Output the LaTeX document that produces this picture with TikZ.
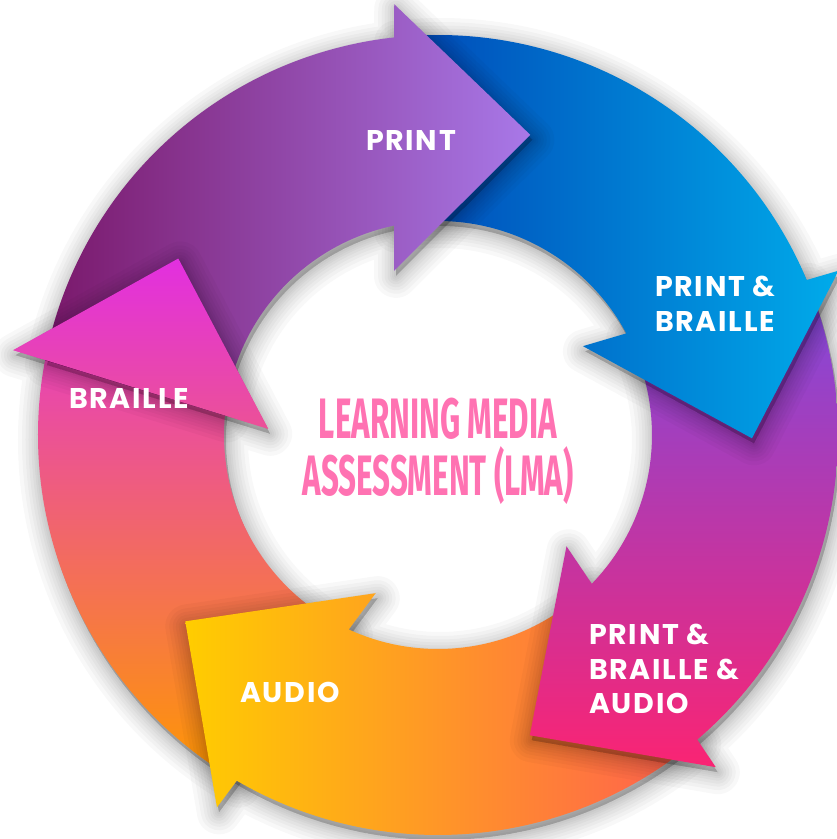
\documentclass[tikz,border=0pt]{standalone}
\usepackage{fontspec}
\newfontfamily\lblfont[LetterSpace=6]{Poppins}
\newfontfamily\lmafont[FakeStretch=0.55]{Fira Sans}

\definecolor{printL}{HTML}{7A186A}
\definecolor{printM}{HTML}{8E46A8}
\definecolor{printR}{HTML}{A878E8}
\definecolor{pbL}{HTML}{0046B6}
\definecolor{pbR}{HTML}{00ABEA}
\definecolor{pbaT}{HTML}{7C4ADE}
\definecolor{pbaM}{HTML}{C23AB0}
\definecolor{pbaB}{HTML}{FA2473}
\definecolor{audL}{HTML}{FFCD00}
\definecolor{audM}{HTML}{FFA820}
\definecolor{audR}{HTML}{FF5E50}
\definecolor{brT}{HTML}{E22FE0}
\definecolor{brM}{HTML}{EF6075}
\definecolor{brB}{HTML}{FF9800}
\definecolor{lmapink}{HTML}{FF72B2}

\tikzset{
  % one ring segment: tail at the previous head, head at #2
  ringarrow/.style 2 args={insert path={
    (#1-4.1:400) arc[start angle=#1-4.1, end angle=#2-4.1, radius=400]
    -- (#2-4.6:433) -- (#2-27.5:314) -- (#2+4.6:170) -- (#2+1.45:214)
    arc[start angle=#2+1.45, end angle=#1+1.45, radius=214] -- cycle}},
  arrowhead/.style={insert path={(#1-4.6:433) -- (#1-27.5:314) -- (#1+4.6:170) -- cycle}},
  shadowpass/.style={draw=black, fill=black, draw opacity=0.028, fill opacity=0.028,
    line width=#1, line join=round, transform canvas={shift={(2pt,-5pt)}}},
  ringshadow/.style={preaction={shadowpass=44pt}, preaction={shadowpass=36pt},
    preaction={shadowpass=29pt}, preaction={shadowpass=23pt}, preaction={shadowpass=17pt},
    preaction={shadowpass=12pt}, preaction={shadowpass=8pt}, preaction={shadowpass=4pt}},
  lbl/.style={text=white, inner sep=0pt, align=left,
    font=\lblfont\fontsize{28.5}{34.5}\selectfont\bfseries},
  lma/.style={text=lmapink, inner sep=0pt, align=center,
    font=\lmafont\fontsize{57}{57}\selectfont\bfseries}
}

\begin{document}
\begin{tikzpicture}[x=1pt,y=1pt]
\useasboundingbox (0,0) rectangle (837,839);
\fill[white] (0,0) rectangle (837,839);

\begin{scope}[shift={(438,404)}]
  % segments back to front
  \shade[ringshadow, top color=brT, middle color=brM, bottom color=brB] [ringarrow={-116.1}{-186.7}];
  \shade[ringshadow, left color=audL, middle color=audM, right color=audR] [ringarrow={-45.5}{-116.1}];
  \shade[ringshadow, top color=pbaT, middle color=pbaM, bottom color=pbaB] [ringarrow={26.9}{-45.5}];
  \shade[ringshadow, left color=pbL, right color=pbR] [ringarrow={100.4}{26.9}];
  \shade[ringshadow, left color=printL, middle color=printM, right color=printR] [ringarrow={173.3}{100.4}];
  % braille head back over the print tail
  \begin{scope}
    \clip [ringarrow={173.3}{100.4}];
    \path[ringshadow] [arrowhead={-186.7}];
  \end{scope}
  \begin{scope}
    \clip [arrowhead={-186.7}];
    \shade[top color=brT, middle color=brM, bottom color=brB] [ringarrow={-116.1}{-186.7}];
  \end{scope}
\end{scope}

\node[lbl] (print) at (411,698) {PRINT};
\node[lbl, anchor=west] (printbraille) at (655,535) {PRINT \&\\BRAILLE};
\node[lbl, anchor=west] (pba) at (589,170) {PRINT \&\\BRAILLE \&\\AUDIO};
\node[lbl] (audio) at (290,147) {AUDIO};
\node[lbl] (braille) at (129,441) {BRAILLE};
\node[lma] (lma) at (438,388) {LEARNING MEDIA\\ASSESSMENT (LMA)};
\end{tikzpicture}
\end{document}
